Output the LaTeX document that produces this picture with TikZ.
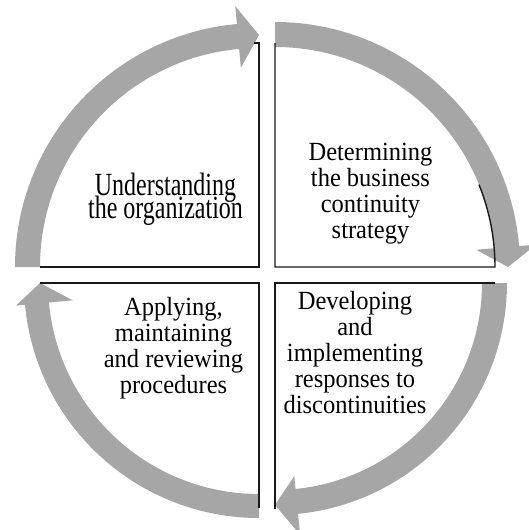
\documentclass[tikz,border=0pt]{standalone}
\usepackage{fontspec}
\setmainfont{Liberation Serif}
\usetikzlibrary{calc}
\AtBeginDocument{\lineskiplimit=-100pt\relax}
\definecolor{bandgray}{RGB}{166,166,166}
\definecolor{edgeblack}{RGB}{25,25,25}
\tikzset{
  x=1pt,y=1pt,
  band/.style={fill=bandgray,draw=none},
  boxedge/.style={draw=edgeblack,line width=1.4pt,line join=miter},
  label/.style={align=center,inner sep=0pt,yscale=1.07,transform shape,
    font=\fontsize{24.5}{24.3}\selectfont},
}
\begin{document}
\begin{tikzpicture}
\useasboundingbox (0,0) rectangle (528,-530);
% corners
\coordinate (C1) at (259,-267);
\coordinate (C2) at (275,-267);
\coordinate (C3) at (275,-283);
\coordinate (C4) at (259,-283);
% top-left arrow
\fill[band] ($(C1)+(180:244)$) arc[start angle=180,end angle=95.2,radius=244]
  -- ($(C1)+(95.2:262)$) -- ($(C1)+(90:232)$) -- ($(C1)+(95.2:200)$)
  -- ($(C1)+(95.2:219)$) arc[start angle=95.2,end angle=180,radius=219] -- cycle;
% top-right arrow
\fill[band] ($(C2)+(90:245)$) arc[start angle=90,end angle=4.9,radius=245]
  -- ($(C2)+(4.9:262)$) -- ($(C2)+(0:233)$) -- ($(C2)+(4.9:202)$)
  -- ($(C2)+(4.9:220)$) arc[start angle=4.9,end angle=90,radius=220] -- cycle;
% bottom-right arrow
\fill[band] ($(C3)+(0:232)$) arc[start angle=0,end angle=-84.3,radius=232]
  -- ($(C3)+(-84.3:253)$) -- ($(C3)+(-90:222)$) -- ($(C3)+(-84.3:194)$)
  -- ($(C3)+(-84.3:207)$) arc[start angle=-84.3,end angle=0,radius=207] -- cycle;
% bottom-left arrow
\fill[band] ($(C4)+(270:235)$) arc[start angle=270,end angle=185.3,radius=235]
  -- ($(C4)+(185.3:244)$) -- ($(C4)+(180:219)$) -- ($(C4)+(185.3:187)$)
  -- ($(C4)+(185.3:211)$) arc[start angle=185.3,end angle=270,radius=211] -- cycle;
% box edges
\draw[boxedge] (254,-43) -- (259,-43) -- (C1) -- (40,-267);
\draw[boxedge] (275,-43) -- (C2) -- (495,-267) arc[start angle=0,end angle=22,radius=220];
\draw[boxedge] (495,-283) -- (C3) -- (275,-509);
\draw[boxedge] (40,-283) -- (C4) -- (259,-508);
% labels
\node[label,yscale=1.26,font=\fontsize{24}{17}\selectfont] (tl) at (165.5,-199) {Understanding\\the organization};
\node[label] (tr) at (370.5,-194) {Determining\\the business\\continuity\\strategy};
\node[label] (br) at (355,-352.3) {Developing\\and\\implementing\\responses to\\discontinuities};
\node[label] (bl) at (173.5,-348.2) {Applying,\\maintaining\\and reviewing\\procedures};
\end{tikzpicture}
\end{document}
